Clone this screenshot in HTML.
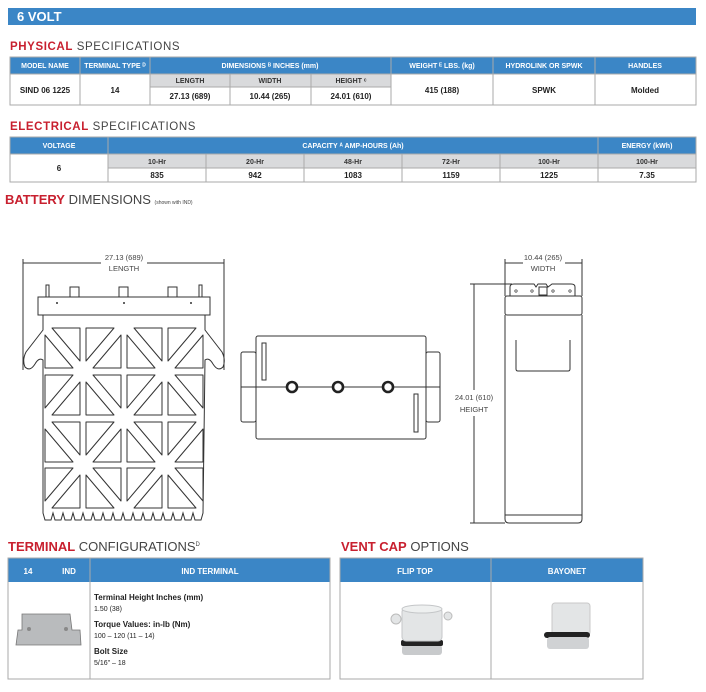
<!DOCTYPE html>
<html><head><meta charset="utf-8"><style>
html,body{margin:0;padding:0;background:#fff;}
svg{display:block;}
text{font-family:"Liberation Sans Narrow","Liberation Sans",sans-serif;}
.h{fill:#fff;font-size:7px;font-weight:bold;text-anchor:middle;}
.s{fill:#333;font-size:7px;font-weight:bold;text-anchor:middle;}
.d{fill:#222;font-size:8px;font-weight:bold;text-anchor:middle;}
.ln{stroke:#aaa;stroke-width:1;fill:none;}
.dr{stroke:#333;stroke-width:1;fill:none;}
.dim{fill:#444;font-size:7.5px;text-anchor:middle;}
.hd{font-family:"Liberation Sans",sans-serif;font-size:11.5px;fill:#444;}
.hd tspan.r{fill:#c8202f;font-weight:bold;}
.sp{letter-spacing:0.6px;}
</style></head><body>
<svg width="706" height="692" viewBox="0 0 706 692" xmlns="http://www.w3.org/2000/svg">
<defs>
<g id="a"><polygon class="dr" stroke-width="1.5" stroke-linejoin="round" points="7,0 35,0 35,33"/><polygon class="dr" stroke-width="1.5" stroke-linejoin="round" points="0,7 0,40 28,40"/></g>
<g id="b"><polygon class="dr" stroke-width="1.5" stroke-linejoin="round" points="0,0 28,0 0,33"/><polygon class="dr" stroke-width="1.5" stroke-linejoin="round" points="35,7 35,40 7,40"/></g>
</defs>
<rect x="8" y="8" width="688" height="17" fill="#3b86c6"/>
<text x="17" y="21" style="font-family:'Liberation Sans',sans-serif;font-size:13px;font-weight:bold;fill:#fff">6 VOLT</text>

<text class="hd sp" x="10" y="50"><tspan class="r">PHYSICAL</tspan> SPECIFICATIONS</text>
<rect x="10" y="57" width="686" height="17" fill="#3b86c6"/>
<rect x="150" y="74" width="241" height="13" fill="#d9dadc"/>
<rect x="10" y="57" width="686" height="48" class="ln"/>
<g class="ln">
<line x1="80" y1="57" x2="80" y2="105"/><line x1="150" y1="57" x2="150" y2="105"/>
<line x1="391" y1="57" x2="391" y2="105"/><line x1="493" y1="57" x2="493" y2="105"/>
<line x1="595" y1="57" x2="595" y2="105"/><line x1="230" y1="74" x2="230" y2="105"/>
<line x1="311" y1="74" x2="311" y2="105"/><line x1="10" y1="74" x2="696" y2="74"/>
<line x1="150" y1="87" x2="391" y2="87"/>
</g>
<text class="h" x="45" y="68">MODEL NAME</text><text class="h" x="115" y="68">TERMINAL TYPE ᴰ</text>
<text class="h" x="270" y="68">DIMENSIONS ᴮ INCHES (mm)</text><text class="h" x="442" y="68">WEIGHT ᴱ LBS. (kg)</text>
<text class="h" x="544" y="68">HYDROLINK OR SPWK</text><text class="h" x="645" y="68">HANDLES</text>
<text class="s" x="190" y="83">LENGTH</text><text class="s" x="270" y="83">WIDTH</text><text class="s" x="351" y="83">HEIGHT ᶜ</text>
<text class="d" x="45" y="93">SIND 06 1225</text><text class="d" x="115" y="93">14</text>
<text class="d" x="190" y="99">27.13 (689)</text><text class="d" x="270" y="99">10.44 (265)</text><text class="d" x="351" y="99">24.01 (610)</text>
<text class="d" x="442" y="93">415 (188)</text><text class="d" x="544" y="93">SPWK</text><text class="d" x="645" y="93">Molded</text>

<text class="hd sp" x="10" y="130"><tspan class="r">ELECTRICAL</tspan> SPECIFICATIONS</text>
<rect x="10" y="137" width="686" height="17" fill="#3b86c6"/>
<rect x="108" y="154" width="588" height="14" fill="#d9dadc"/>
<rect x="10" y="137" width="686" height="45" class="ln"/>
<g class="ln">
<line x1="108" y1="137" x2="108" y2="182"/><line x1="598" y1="137" x2="598" y2="182"/>
<line x1="206" y1="154" x2="206" y2="182"/><line x1="304" y1="154" x2="304" y2="182"/>
<line x1="402" y1="154" x2="402" y2="182"/><line x1="500" y1="154" x2="500" y2="182"/>
<line x1="10" y1="154" x2="696" y2="154"/><line x1="108" y1="168" x2="696" y2="168"/>
</g>
<text class="h" x="59" y="148">VOLTAGE</text><text class="h" x="353" y="148">CAPACITY ᴬ AMP-HOURS (Ah)</text><text class="h" x="647" y="148">ENERGY (kWh)</text>
<text class="s" x="157" y="164">10-Hr</text><text class="s" x="255" y="164">20-Hr</text><text class="s" x="353" y="164">48-Hr</text>
<text class="s" x="451" y="164">72-Hr</text><text class="s" x="549" y="164">100-Hr</text><text class="s" x="647" y="164">100-Hr</text>
<text class="d" x="59" y="171">6</text>
<text class="d" x="157" y="178">835</text><text class="d" x="255" y="178">942</text><text class="d" x="353" y="178">1083</text>
<text class="d" x="451" y="178">1159</text><text class="d" x="549" y="178">1225</text><text class="d" x="647" y="178">7.35</text>

<text x="5" y="204" style="font-family:'Liberation Sans Narrow','Liberation Sans',sans-serif;font-size:13px;fill:#444"><tspan fill="#c8202f" font-weight="bold">BATTERY</tspan> DIMENSIONS <tspan font-size="5px">(shown with IND)</tspan></text>

<g class="dr">
<line x1="23" y1="259" x2="23" y2="370"/><line x1="224" y1="259" x2="224" y2="370"/>
<line x1="23" y1="263" x2="101" y2="263"/><line x1="147" y1="263" x2="224" y2="263"/>
<rect x="38" y="297" width="172" height="18"/>
<rect x="46" y="285" width="3" height="12"/><rect x="199" y="285" width="3" height="12"/>
<rect x="70" y="287" width="9" height="10"/><rect x="119" y="287" width="9" height="10"/><rect x="168" y="287" width="9" height="10"/>
<path d="M43,315 L43,330 L26,352 Q22,360 25,367 Q30,372 35,364 Q39,357 43,360 L43,513 l2,7 l6,0 l2,-7 l2,7 l6,0 l2,-7 l2,7 l6,0 l2,-7 l2,7 l6,0 l2,-7 l2,7 l6,0 l2,-7 l2,7 l6,0 l2,-7 l2,7 l6,0 l2,-7 l2,7 l6,0 l2,-7 l2,7 l6,0 l2,-7 l2,7 l6,0 l2,-7 l2,7 l6,0 l2,-7 l2,7 l6,0 l2,-7 l2,7 l6,0 l2,-7 l2,7 l6,0 l2,-7 l2,7 l6,0 l2,-7 l2,7 l6,0 l2,-7 L205,360 Q209,357 213,364 Q218,372 223,367 Q226,360 222,352 L205,330 L205,315"/>
</g>
<circle cx="57" cy="303" r="1" fill="#333"/><circle cx="124" cy="303" r="1" fill="#333"/><circle cx="191" cy="303" r="1" fill="#333"/>
<text class="dim" x="124" y="260">27.13 (689)</text><text class="dim" x="124" y="271">LENGTH</text>
<use href="#a" x="45" y="328"/><use href="#b" x="86" y="328"/><use href="#a" x="127" y="328"/><use href="#b" x="168" y="328"/>
<use href="#b" x="45" y="375"/><use href="#a" x="86" y="375"/><use href="#b" x="127" y="375"/><use href="#a" x="168" y="375"/>
<use href="#a" x="45" y="422"/><use href="#b" x="86" y="422"/><use href="#a" x="127" y="422"/><use href="#b" x="168" y="422"/>
<use href="#b" x="45" y="468"/><use href="#a" x="86" y="468"/><use href="#b" x="127" y="468"/><use href="#a" x="168" y="468"/>

<g class="dr">
<rect x="241" y="352" width="15" height="70" rx="2"/><rect x="426" y="352" width="14" height="70" rx="2"/>
<rect x="256" y="336" width="170" height="103" rx="2" fill="#fff"/>
<line x1="241" y1="387" x2="440" y2="387"/>
<rect x="262" y="343" width="4" height="37"/><rect x="414" y="394" width="4" height="38"/>
</g>
<g fill="#fff" stroke="#222" stroke-width="2.6">
<circle cx="292" cy="387" r="5"/><circle cx="338" cy="387" r="5"/><circle cx="388" cy="387" r="5"/>
</g>

<g class="dr">
<line x1="505" y1="259" x2="505" y2="296"/><line x1="582" y1="259" x2="582" y2="296"/>
<line x1="505" y1="263" x2="523" y2="263"/><line x1="565" y1="263" x2="582" y2="263"/>
<line x1="474" y1="284" x2="474" y2="523"/><line x1="470" y1="284" x2="512" y2="284"/><line x1="470" y1="523" x2="505" y2="523"/>
<path d="M510,296 L510,287 Q510,284 514,284 L534,284 L536,287 L538,284 L546,284 L548,287 L552,284 L571,284 Q575,284 575,287 L575,296"/>
<rect x="505" y="296" width="77" height="19" rx="2"/>
<path d="M505,315 L505,519 Q505,523 509,523 L578,523 Q582,523 582,519 L582,315"/>
<line x1="505" y1="515" x2="582" y2="515"/>
<path d="M516,340 L516,369 Q516,371 518,371 L568,371 Q570,371 570,369 L570,340"/>
<rect x="539" y="287" width="8" height="8"/>
</g>
<g fill="none" stroke="#333" stroke-width=".7"><circle cx="516" cy="291" r="1.2"/><circle cx="532" cy="291" r="1.2"/><circle cx="553" cy="291" r="1.2"/><circle cx="570" cy="291" r="1.2"/></g>
<text class="dim" x="543" y="260">10.44 (265)</text><text class="dim" x="543" y="271">WIDTH</text>
<rect x="458" y="390" width="32" height="26" fill="#fff"/>
<text class="dim" x="474" y="400">24.01 (610)</text><text class="dim" x="474" y="412">HEIGHT</text>

<text class="hd" x="8" y="551" style="font-size:13px"><tspan class="r">TERMINAL</tspan> CONFIGURATIONS<tspan font-size="6" dy="-5">D</tspan></text>
<rect x="8" y="558" width="322" height="24" fill="#3b86c6"/>
<rect x="8" y="558" width="322" height="121" class="ln"/>
<line x1="90" y1="558" x2="90" y2="679" class="ln"/>
<text class="h" x="28" y="574" style="font-size:8px">14</text><text class="h" x="69" y="574" style="font-size:8px">IND</text>
<text class="h" x="210" y="574" style="font-size:8px">IND TERMINAL</text>
<g style="font-size:8px;fill:#222">
<text x="94" y="600" font-weight="bold">Terminal Height Inches (mm)</text><text x="94" y="611" font-size="7">1.50 (38)</text>
<text x="94" y="627" font-weight="bold">Torque Values: in-lb (Nm)</text><text x="94" y="638" font-size="7">100 – 120 (11 – 14)</text>
<text x="94" y="654" font-weight="bold">Bolt Size</text><text x="94" y="665" font-size="7">5/16" – 18</text>
</g>
<path d="M22,614 L70,614 L72,630 L80,630 L81,645 L16,645 L18,630 L22,630 Z" fill="#b9bbbd" stroke="#777" stroke-width=".8"/>
<circle cx="29" cy="629" r="2" fill="#888"/><circle cx="66" cy="629" r="2" fill="#888"/>

<text class="hd" x="341" y="551" style="font-size:13px"><tspan class="r">VENT CAP</tspan> OPTIONS</text>
<rect x="340" y="558" width="303" height="24" fill="#3b86c6"/>
<rect x="340" y="558" width="303" height="121" class="ln"/>
<line x1="491" y1="558" x2="491" y2="679" class="ln"/>
<text class="h" x="415" y="574" style="font-size:8px">FLIP TOP</text><text class="h" x="567" y="574" style="font-size:8px">BAYONET</text>
<rect x="402" y="645" width="40" height="10" rx="3" fill="#c8cacc"/>
<rect x="401" y="640" width="42" height="6" rx="2" fill="#222"/>
<rect x="402" y="608" width="40" height="33" rx="4" fill="#e3e5e6" stroke="#c4c6c8"/>
<ellipse cx="422" cy="609" rx="20" ry="4" fill="#eef0f0" stroke="#c4c6c8"/>
<circle cx="396" cy="619" r="5" fill="#e3e5e6" stroke="#bbb"/><circle cx="448" cy="616" r="4" fill="#e3e5e6" stroke="#bbb"/>
<rect x="552" y="603" width="38" height="32" rx="3" fill="#e3e5e6" stroke="#c8c8c8"/>
<rect x="544" y="632" width="46" height="6" rx="3" fill="#222"/>
<rect x="547" y="637" width="42" height="12" rx="3" fill="#d0d2d4"/>
</svg>
</body></html>
